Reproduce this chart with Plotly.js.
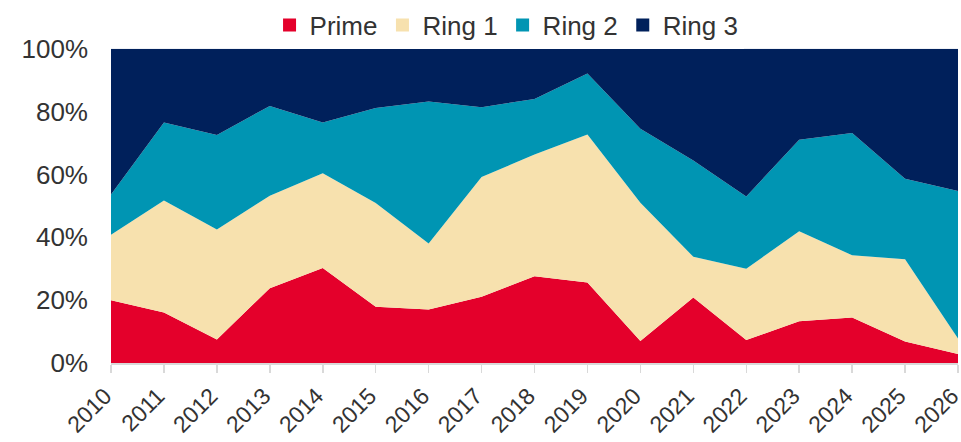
<!DOCTYPE html>
<html><head><meta charset="utf-8">
<script src="https://cdn.plot.ly/plotly-3.0.1.min.js"></script>
<style>html,body{margin:0;padding:0;background:#fff}#chart{width:961px;height:442px}</style>
</head><body><div id="chart"></div>
<script>
const years = [2010,2011,2012,2013,2014,2015,2016,2017,2018,2019,2020,2021,2022,2023,2024,2025,2026];
const prime = [20.0,16.1,7.5,23.8,30.2,17.9,17.0,21.1,27.6,25.6,7.0,20.8,7.3,13.3,14.5,6.8,2.9];
const ring1 = [20.8,35.6,35.0,29.4,30.2,33.0,21.0,38.1,38.7,47.1,44.0,13.0,22.7,28.6,19.8,26.2,4.9];
const ring2 = [12.8,24.8,30.0,28.6,16.1,30.2,45.2,22.2,17.7,19.4,23.5,30.6,23.0,29.1,38.9,25.6,46.9];
const ring3 = [46.4,23.5,27.5,18.2,23.5,18.9,16.8,18.6,16.0,7.9,25.5,35.6,47.0,29.0,26.8,41.4,45.3];
const yTicks = [0,20,40,60,80,100];
const yTickText = ['0%','20%','40%','60%','80%','100%'];
const names = ['Prime','Ring 1','Ring 2','Ring 3'];
const colors = ['#E4002B','#F7E1AE','#0095B3','#00205B'];
const series = [prime, ring1, ring2, ring3];
const traces = series.map((s,i)=>({
  x: years, y: s, name: names[i], type:'scatter', mode:'lines',
  stackgroup:'one', line:{width:0, color:colors[i]}, fillcolor:colors[i], showlegend:false
}));
names.forEach((n,i)=>traces.push({
  x:[null], y:[null], name:n, type:'scatter', mode:'markers',
  marker:{symbol:'square', size:13, color:colors[i]}, showlegend:true
}));
const layout = {
  width:961, height:442,
  margin:{l:111, r:3, t:48, b:79},
  font:{family:'Liberation Sans, Arial, sans-serif', color:'#333333'},
  paper_bgcolor:'#fff', plot_bgcolor:'#fff',
  showlegend:true,
  legend:{orientation:'h', x:0.467, xanchor:'center', yref:'container', y:0.943, yanchor:'middle',
    font:{size:26, color:'#333333'}, traceorder:'normal', itemwidth:30, tracegroupgap:0},
  xaxis:{range:[2010,2026], tickmode:'array', tickvals:years, ticktext:years.map(String),
    tickangle:-45, tickfont:{size:23}, ticks:'outside', ticklen:8, tickcolor:'#d9d9d9', tickwidth:1.5,
    ticklabeloverflow:'allow', ticklabelstandoff:1, ticklabelshift:-6,
    showline:true, linecolor:'#d9d9d9', linewidth:1.5, showgrid:false, zeroline:false, automargin:false, fixedrange:true},
  yaxis:{range:[0,100], tickmode:'array', tickvals:yTicks, ticktext:yTickText, tickfont:{size:26},
    ticklabelstandoff:22,
    showgrid:false, zeroline:false, ticks:'', automargin:false, fixedrange:true}
};
Plotly.newPlot('chart', traces, layout, {displayModeBar:false, staticPlot:true});
</script></body></html>
